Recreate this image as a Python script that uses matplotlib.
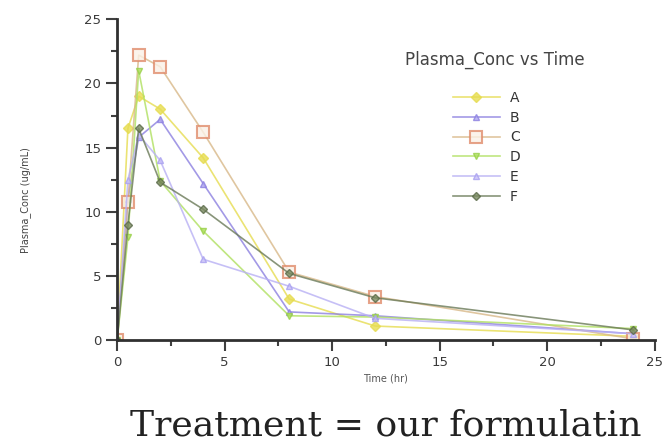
import numpy as np
import matplotlib
matplotlib.use('Agg')
import matplotlib.pyplot as plt
from matplotlib.ticker import MultipleLocator

# sampling times (hr)
times = [0, 0.5, 1, 2, 4, 8, 12, 24]

# plasma concentration (ug/mL) per treatment
conc_a = [0, 16.5, 19.0, 18.0, 14.2, 3.2, 1.1, 0.3]
conc_b = [0, 11.0, 15.8, 17.2, 12.2, 2.2, 1.9, 0.5]
conc_c = [0, 10.8, 22.2, 21.3, 16.2, 5.3, 3.4, 0.1]
conc_d = [0, 8.0, 21.0, 12.4, 8.5, 1.9, 1.8, 0.9]
conc_e = [0, 12.5, 16.0, 14.0, 6.3, 4.2, 1.7, 0.5]
conc_f = [0, 9.0, 16.5, 12.3, 10.2, 5.2, 3.3, 0.8]

labels = ['A', 'B', 'C', 'D', 'E', 'F']
series = [conc_a, conc_b, conc_c, conc_d, conc_e, conc_f]

styles = [
    dict(color='#e6dc50', marker='D', ms=5, mfc='#e6dc50', mec='#e6dc50'),
    dict(color='#8c80e0', marker='^', ms=5, mfc='#b0a8f0', mec='#8c80e0'),
    dict(color='#d8b888', marker='s', ms=8, mfc='#fbf1e6', mec='#e08c6c', mew=1.5),
    dict(color='#b0e060', marker='v', ms=5, mfc='#b0e060', mec='#98d048'),
    dict(color='#b8b0f4', marker='^', ms=4, mfc='#c8c0f8', mec='#a8a0f0'),
    dict(color='#6a7a58', marker='D', ms=4, mfc='#7a8a60', mec='#5a6a48'),
]

fig = plt.figure(figsize=(6.62, 4.47), dpi=100)
ax = fig.add_axes([0.177, 0.239, 0.812, 0.718])

for lab, y, st in zip(labels, series, styles):
    ax.plot(times, y, label=lab, linewidth=1.2, alpha=0.8, **st)

ax.set_xlim(0, 25)
ax.set_ylim(0, 25)
ax.xaxis.set_major_locator(MultipleLocator(5))
ax.xaxis.set_minor_locator(MultipleLocator(2.5))
ax.yaxis.set_major_locator(MultipleLocator(5))
ax.yaxis.set_minor_locator(MultipleLocator(2.5))
ax.spines['top'].set_visible(False)
ax.spines['right'].set_visible(False)
for s in ['left', 'bottom']:
    ax.spines[s].set_linewidth(2)
    ax.spines[s].set_color('#303030')
ax.tick_params(which='major', length=8, width=1.5, color='#404040', labelsize=9.5, labelcolor='#3a3a3a')
ax.tick_params(which='minor', length=4, width=1.5, color='#404040')

fig.text(0.038, 0.553, 'Plasma_Conc (ug/mL)', rotation=90, ha='center', va='center',
         fontsize=7, color='#444444')
fig.text(0.582, 0.154, 'Time (hr)', ha='center', va='center', fontsize=7, color='#555555')

# legend title drawn separately (bigger gap than the default title spacing)
fig.text(0.748, 0.866, 'Plasma_Conc vs Time', ha='center', va='center',
         fontsize=12, color='#444444')
leg = ax.legend(loc='upper left', bbox_to_anchor=(0.684, 0.797),
                bbox_transform=fig.transFigure, frameon=False, fontsize=10,
                handlelength=3.4, labelspacing=0.42, borderpad=0,
                borderaxespad=0, handletextpad=0.7)
for t in leg.get_texts():
    t.set_color('#333333')

fig.text(0.583, 0.049, 'Treatment = our formulatin', ha='center', va='center',
         fontsize=26, family='DejaVu Serif', color='#222222')

fig.savefig('out.png', dpi=100)
